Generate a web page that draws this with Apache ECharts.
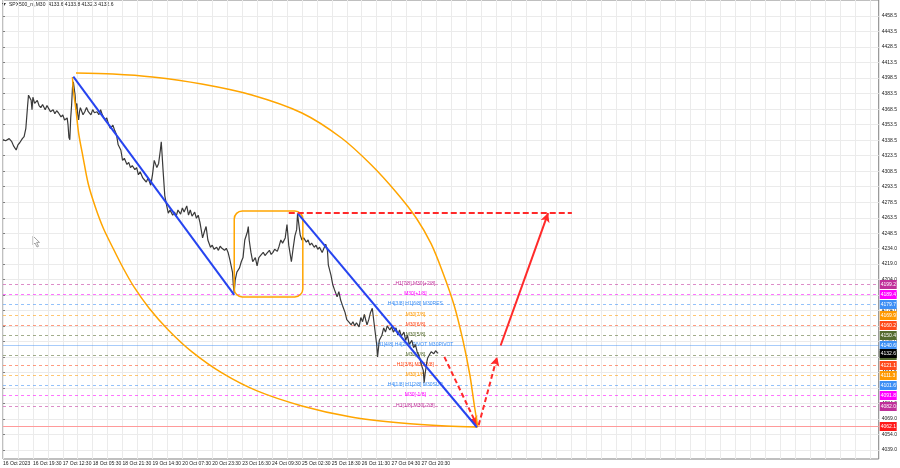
<!DOCTYPE html>
<html><head><meta charset="utf-8">
<script src="https://cdn.jsdelivr.net/npm/echarts@6/dist/echarts.min.js"></script>
<style>html,body{margin:0;padding:0;background:#fff}#c{width:900px;height:468px}</style>
</head><body><div id="c"></div>
<script>
// ---- data ----
const titleText = 'SPX500_m,M30  4133.6 4133.8 4132.3 4132.6';
const timeTickBars = [0,34,68,102,136,170,204,238,272,306,340,374,408,442,476];
const timeTickLabels = ['16 Oct 2023','16 Oct 19:30','17 Oct 12:30','18 Oct 05:30','18 Oct 21:30','19 Oct 14:30','20 Oct 07:30','20 Oct 23:30','23 Oct 16:30','24 Oct 09:30','25 Oct 02:30','25 Oct 18:30','26 Oct 11:30','27 Oct 04:30','27 Oct 20:30'];
const timeGridBars = [0,17,34,51,68,85,102,119,136,153,170,187,204,221,238,255,272,289,306,323,340,357,374,391,408,425,442,459,476,493,510,527,544,561,578,595,612,629,646,663,680,697,714,731,748,765,782,799,816,833,850,867,884,901,918,935,952,969,986];
const priceTicks = [4458.5,4443.5,4428.5,4413.5,4398.5,4383.5,4368.5,4353.5,4338.5,4323.5,4308.5,4293.5,4278.5,4263.5,4248.5,4234.0,4219.0,4204.0,4189.0,4174.0,4159.0,4144.0,4129.0,4114.0,4099.0,4084.0,4069.0,4054.0,4039.0];

const priceBars = [0,3,7,10,12,15,17,19,22,24,26,28,29,32,33,34,36,39,41,43,45,48,50,52,54,57,59,61,63,66,68,70,73,74,75,76,77,78,79,80,
82,83,84,85,86,87,88,91,93,95,97,100,102,104,107,109,111,113,116,118,120,122,125,127,129,131,134,136,138,141,143,145,147,150,152,154,156,159,161,163,165,168,170,172,175,177,179,180,181,182,184,186,188,190,193,195,197,199,202,204,206,209,211,213,215,218,220,222,224,
227,229,231,233,236,238,240,243,245,247,249,252,254,256,258,261,262,263,264,266,269,271,273,275,278,279,280,282,284,287,289,291,294,296,298,300,303,305,307,309,312,314,316,318,321,323,325,328,330,332,334,335,338,340,
342,345,347,349,351,354,356,358,360,363,365,367,369,370,373,375,377,380,382,384,386,389,391,393,396,398,400,402,405,407,409,411,414,416,418,420,423,425,426,428,431,433,435,437,440,442,444,447,449,451,453,456,458,460,462,465,467,469,471,474,476,478,479,480,482,483,485,487,490,492,494,495];
const priceCloses = [4339,4338,4340,4337,4333,4329,4334,4336,4340,4342,4350,4372,4382,4377,4368,4380,4374,4377,4372,4370,4373,4368,4372,4369,4366,4368,4364,4367,4365,4361,4363,4358,4360,4353,4341,4339,4360,4372,4389,4395,
4382,4368,4374,4363,4358,4366,4370,4363,4366,4370,4366,4363,4368,4365,4366,4363,4368,4363,4358,4360,4354,4350,4353,4348,4344,4334,4329,4319,4321,4315,4317,4312,4314,4310,4312,4305,4308,4302,4300,4298,4302,4295,4305,4319,4312,4316,4329,4337,4324,4310,4285,4276,4268,4271,4266,4269,4265,4271,4267,4273,4269,4275,4266,4271,4265,4269,4263,4266,4259,
4244,4250,4255,4242,4235,4237,4233,4235,4232,4236,4234,4232,4234,4230,4223,4211,4198,4191,4203,4211,4215,4221,4225,4242,4250,4255,4242,4230,4221,4225,4217,4225,4228,4230,4227,4229,4232,4228,4230,4233,4231,4236,4242,4239,4244,4257,4237,4221,4234,4246,4252,4267,4247,4242,
4244,4240,4242,4237,4239,4235,4237,4233,4235,4230,4234,4238,4232,4218,4208,4199,4194,4187,4192,4184,4179,4172,4165,4163,4160,4163,4159,4162,4158,4167,4163,4170,4160,4165,4172,4176,4155,4141,4129,4145,4150,4157,4153,4159,4155,4158,4153,4157,4150,4155,4149,4153,4145,4150,4141,4145,4138,4141,4134,4128,4121,4116,4104,4112,4124,4128,4131,4134,4132,4135,4133,4132.6];

const levelValues = [4199.2,4189.4,4179.7,4169.9,4160.2,4150.4,4140.6,4130.9,4121.1,4111.3,4101.6,4091.8,4082.0];
const levelLabels = ['H1[7/8] M30[+2/8]','M30[+1/8]','H4[3/8] H1[6/8] M30RES','M30[7/8]','M30[6/8]','M30[5/8]','H1[4/8] H4[2/8] PIVOT M30PIVOT','M30[3/8]','H1[3/8] M30[2/8]','M30[1/8]','H4[1/8] H1[2/8] M30SUP','M30[-1/8]','H1[1/8] M30[-2/8]'];
const levelColors = ['#c0309a','#ff00ff','#3d8ff5','#ff9900','#ff4a1a','#556b2f','#3d8ff5','#556b2f','#ff4a1a','#ff9900','#3d8ff5','#ff00ff','#c0309a'];
const levelSolid = [false,false,false,false,false,false,true,false,false,false,false,false,false];
const lastPrice = 4132.6;
const targetLine = 4062.1;

const ellipseTopBars = [83,125,170,226,283,340,385,419,447,470,487,500,513,523,531,536,540];
const ellipseTopPrices = [4403.4,4402.5,4399.6,4392.8,4382.2,4364.8,4340.6,4314.5,4288.4,4263.3,4238.2,4211.1,4179.2,4145.4,4111.5,4082.5,4061.3];
const ellipseLowBars = [79,80,83,86,91,97,105,114,125,136,149,166,188,215,249,289,340,396,453,504,540];
const ellipseLowPrices = [4399.6,4387.0,4367.7,4345.4,4322.2,4296.1,4273.9,4253.6,4234.3,4215.9,4196.6,4176.3,4155.0,4133.8,4113.5,4096.1,4081.6,4070.9,4065.1,4062.2,4061.3];

const channelA = [[80,4400],[263,4189]];
const channelB = [[335,4268],[539,4061]];
const boxCorners = [[263,4270],[341,4187]];
const resistLine = [[325,4268],[647,4268]];
const arrowDown = [[502,4129],[539,4063]];
const arrowUp1 = [[541,4063],[562,4129]];
const arrowUp2 = [[566,4140],[620,4268]];

// ---- chart ----
const FONT = 'Liberation Sans';
const chart = echarts.init(document.getElementById('c'), null, {renderer:'canvas'});
const zip = (a,b)=>a.map((v,i)=>[v,b[i]]);
const labelBar = 469;

const option = {
  animation:false,
  backgroundColor:'#ffffff',
  grid:{left:0,right:20,top:0,bottom:9,show:true,borderColor:'#808080',borderWidth:1},
  xAxis:{type:'value',min:0,max:996,
    axisLine:{show:false},
    axisTick:{show:false,customValues:timeGridBars},
    axisLabel:{customValues:timeTickBars,fontFamily:FONT,fontSize:5,color:'#202020',align:'left',margin:2,
      formatter:(v)=>{const i=timeTickBars.indexOf(v);return i>=0?timeTickLabels[i]:'';}},
    splitLine:{show:true,lineStyle:{color:'#ebebeb',width:1}}},
  yAxis:{type:'value',position:'right',min:4030.3,max:4474.0,
    axisLine:{show:false},
    axisTick:{show:true,customValues:priceTicks,length:2,lineStyle:{color:'#808080'}},
    axisLabel:{customValues:priceTicks,fontFamily:FONT,fontSize:5,color:'#202020',margin:3,
      formatter:(v)=>v.toFixed(1)},
    splitLine:{show:true,lineStyle:{color:'#ebebeb',width:1}}},
  graphic:[
    {type:'polygon',shape:{points:[[2,3],[6,3],[4,6]]},style:{fill:'#333'}},
    {type:'text',x:9,y:2,style:{text:titleText,font:'5px '+FONT,fill:'#202020'}},
    {type:'polygon',shape:{points:[[33,236],[33,245],[35,243],[37,247],[38.5,246.3],[36.6,242.4],[39.5,242.4]]},
      style:{fill:'#ffffff',stroke:'#8a8a8a',lineWidth:0.8}}
  ],
  series:[
    {type:'custom',name:'levels',clip:false,z:3,
      data:levelValues.map((v,i)=>[i,v]),
      renderItem:(params,api)=>{
        const i=api.value(0), v=api.value(1);
        const cs=params.coordSys;
        const y=Math.round(api.coord([0,v])[1])+0.5;
        const xl=api.coord([labelBar,v])[0];
        const col=levelColors[i];
        return {type:'group',children:[
          {type:'line',shape:{x1:cs.x,y1:y,x2:cs.x+cs.width,y2:y},
            style:{stroke:col,lineWidth:1,lineDash:levelSolid[i]?null:[3,3],opacity:levelSolid[i]?0.45:0.55}},
          {type:'text',x:xl,y:y-0.5,style:{text:levelLabels[i],fill:col,font:'5px '+FONT,align:'center',verticalAlign:'middle'}},
          {type:'rect',shape:{x:cs.x+cs.width+1,y:y-4.5,width:17,height:9},style:{fill:col}},
          {type:'text',x:cs.x+cs.width+2,y:y,style:{text:v.toFixed(1),fill:'#ffffff',font:'5px '+FONT,align:'left',verticalAlign:'middle'}}
        ]};
      }},
    {type:'custom',name:'marks',clip:false,z:4,
      data:[[0,lastPrice],[1,targetLine]],
      renderItem:(params,api)=>{
        const v=api.value(1);
        const d=[['#000000',false],['#ff1a1a',true]][api.value(0)];
        const cs=params.coordSys;
        const y=Math.round(api.coord([0,v])[1])+0.5;
        const ch=[];
        if(d[1]) ch.push({type:'line',shape:{x1:cs.x,y1:y,x2:cs.x+cs.width,y2:y},style:{stroke:'#ff9a9a',lineWidth:1}});
        ch.push({type:'rect',shape:{x:cs.x+cs.width+1,y:y-4.5,width:17,height:9},style:{fill:d[0]}});
        ch.push({type:'text',x:cs.x+cs.width+2,y:y,style:{text:v.toFixed(1),fill:'#ffffff',font:'5px '+FONT,align:'left',verticalAlign:'middle'}});
        return {type:'group',children:ch};
      }},
    {type:'line',name:'price',data:zip(priceBars,priceCloses),showSymbol:false,symbol:'none',
      lineStyle:{color:'#3a3a3a',width:1.2},z:5},
    {type:'line',name:'ellipseTop',data:zip(ellipseTopBars,ellipseTopPrices),smooth:0.3,showSymbol:false,symbol:'none',
      lineStyle:{color:'#ffa500',width:1.5},z:6},
    {type:'line',name:'ellipseLow',data:zip(ellipseLowBars,ellipseLowPrices),smooth:0.3,showSymbol:false,symbol:'none',
      lineStyle:{color:'#ffa500',width:1.5},z:6},
    {type:'custom',name:'box',clip:false,z:6,data:[[boxCorners[0][0],boxCorners[0][1],boxCorners[1][0],boxCorners[1][1]]],
      renderItem:(params,api)=>{
        const p1=api.coord([api.value(0),api.value(1)]), p2=api.coord([api.value(2),api.value(3)]);
        return {type:'rect',shape:{x:p1[0],y:p1[1],width:p2[0]-p1[0],height:p2[1]-p1[1],r:8},
          style:{fill:'none',stroke:'#ffa500',lineWidth:1.5}};
      }},
    {type:'line',name:'channelA',data:channelA,showSymbol:false,symbol:'none',lineStyle:{color:'#2644f0',width:2},z:7},
    {type:'line',name:'channelB',data:channelB,showSymbol:false,symbol:'none',lineStyle:{color:'#2644f0',width:2},z:7},
    {type:'line',name:'resist',data:resistLine,showSymbol:false,symbol:'none',lineStyle:{color:'#ff2a2a',width:2,type:[6,3]},z:7},
    {type:'line',name:'arrows',data:[],z:8,
      markLine:{silent:true,symbol:['none','arrow'],symbolSize:[7,9],label:{show:false},animation:false,
        data:[
          [{coord:arrowDown[0],lineStyle:{type:[5,3]}},{coord:arrowDown[1]}],
          [{coord:arrowUp1[0],lineStyle:{type:[5,3]}},{coord:arrowUp1[1]}],
          [{coord:arrowUp2[0],lineStyle:{type:'solid'}},{coord:arrowUp2[1]}]
        ],
        lineStyle:{color:'#ff2a2a',width:2}}}
  ]
};
chart.setOption(option);
</script>
</body></html>
